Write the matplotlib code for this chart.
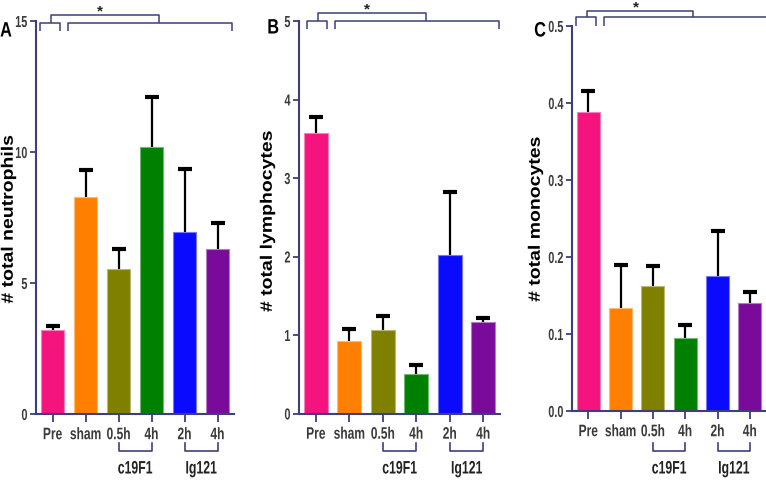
import matplotlib
matplotlib.use("Agg")
import matplotlib.pyplot as plt
from matplotlib.lines import Line2D
from matplotlib.patheffects import AbstractPathEffect
import matplotlib.transforms as mtransforms
from matplotlib.transforms import Affine2D
from matplotlib.colors import to_rgb

W, H = 766, 486

categories = ["Pre", "sham", "0.5h", "4h", "2h", "4h"]
groups = [("c19F1", 2, 3), ("Ig121", 4, 5)]
colors = ["#F5147E", "#FF8000", "#808000", "#008000", "#0A0AFF", "#7A0A9A"]

neut_mean = [3.2, 8.3, 5.55, 10.2, 6.95, 6.3]
neut_err = [0.15, 1.0, 0.75, 1.9, 2.4, 1.0]
lymph_mean = [3.57, 0.92, 1.06, 0.50, 2.02, 1.17]
lymph_err = [0.21, 0.16, 0.18, 0.12, 0.80, 0.05]
mono_mean = [0.388, 0.134, 0.162, 0.095, 0.175, 0.140]
mono_err = [0.027, 0.056, 0.026, 0.017, 0.059, 0.015]

neut_ticks = [0, 5, 10, 15]
neut_ticklabels = ["0", "5", "10", "15"]
lymph_ticks = [0, 1, 2, 3, 4, 5]
lymph_ticklabels = ["0", "1", "2", "3", "4", "5"]
mono_ticks = [0.0, 0.1, 0.2, 0.3, 0.4, 0.5]
mono_ticklabels = ["0.0", "0.1", "0.2", "0.3", "0.4", "0.5"]

ylabels = ["# total neutrophils", "# total lymphocytes", "# total monocytes"]
letters = ["A", "B", "C"]

FONT = "Liberation Sans"
NAVY = "#3E3E7C"
TICKC = "#3A3A3A"


class Squeeze(AbstractPathEffect):
    """Draw text glyphs condensed (narrow-font look) about an anchor."""

    def __init__(self, sx=1.0, sy=1.0, anchor="center"):
        super().__init__()
        self.sx, self.sy, self.anchor = sx, sy, anchor

    def draw_path(self, renderer, gc, tpath, affine, rgbFace=None):
        ext = tpath.get_extents()
        if self.anchor == "right":
            cx = ext.x1
        elif self.anchor == "left":
            cx = ext.x0
        else:
            cx = (ext.x0 + ext.x1) / 2
        cy = (ext.y0 + ext.y1) / 2
        t = Affine2D().translate(-cx, -cy).scale(self.sx, self.sy).translate(cx, cy) + affine
        renderer.draw_path(gc, tpath, t, rgbFace)


def lighten(c, f=0.45):
    r, g, b = to_rgb(c)
    return (r + (1 - r) * f, g + (1 - g) * f, b + (1 - b) * f)


fig = plt.figure(figsize=(W / 100, H / 100), dpi=100)


def fx(px):
    return px / W


def fy(py):
    return 1 - py / H


def pline(xs, ys, **kw):
    fig.add_artist(Line2D([fx(x) for x in xs], [fy(y) for y in ys],
                          transform=fig.transFigure, color=NAVY, lw=1.1,
                          solid_capstyle="butt", **kw))


# axes boxes in pixels: left, right, top, bottom
boxes = [(36, 234, 21, 414), (299, 500, 21, 413.5), (572, 766, 26, 411)]
ylims = [(0, 15), (0, 5), (0, 0.5)]
data = [(neut_mean, neut_err, neut_ticks, neut_ticklabels),
        (lymph_mean, lymph_err, lymph_ticks, lymph_ticklabels),
        (mono_mean, mono_err, mono_ticks, mono_ticklabels)]
ylabel_x = [9, 268, 536]
ylabel_y = [219, 221, 219]
letter_pos = [(0, 31), (267, 28), (534, 31)]

x = list(range(len(categories)))
for i in range(3):
    l, r, t, b = boxes[i]
    ax = fig.add_axes([fx(l), fy(b), (r - l) / W, (b - t) / H])
    mean, err, ticks, tlabels = data[i]
    tops = [m + e for m, e in zip(mean, err)]
    ax.bar(x, mean, width=0.72, color=colors,
           edgecolor=[lighten(c) for c in colors], linewidth=0.8, zorder=2)
    ax.vlines(x, mean, tops, colors="black", lw=1.6, zorder=3)
    ax.plot(x, tops, linestyle="none", marker="_", markersize=9.5,
            markeredgewidth=3.0, color="black", zorder=3, clip_on=False)
    ax.set_xlim(-0.5, 5.5)
    ax.set_ylim(*ylims[i])
    ax.set_yticks(ticks)
    ax.set_yticklabels(tlabels)
    ax.set_xticks(x)
    ax.set_xticklabels(categories)
    for s in ["top", "right"]:
        ax.spines[s].set_visible(False)
    for s in ["left", "bottom"]:
        ax.spines[s].set_color(NAVY)
        ax.spines[s].set_linewidth(1.5)
    ax.tick_params(axis="y", direction="out", length=4.5, width=1.3, color=NAVY,
                   labelcolor=TICKC, pad=1.5)
    ax.tick_params(axis="x", direction="out", length=5.5, width=1.3, color=NAVY,
                   labelcolor=TICKC, pad=4)
    for lab in ax.get_yticklabels():
        lab.set_fontfamily(FONT)
        lab.set_fontsize(11.5)
        lab.set_fontweight("bold")
        lab.set_path_effects([Squeeze(sx=0.68, anchor="right")])
    for lab in ax.get_xticklabels():
        lab.set_fontfamily(FONT)
        lab.set_fontsize(12)
        lab.set_fontweight("bold")
        lab.set_path_effects([Squeeze(sx=0.72)])
    ax.patch.set_alpha(0)
    fig.text(fx(ylabel_x[i]), fy(ylabel_y[i]), ylabels[i], rotation=90,
             ha="center", va="center", fontsize=14, fontweight="bold",
             family=FONT, color="black",
             path_effects=[Squeeze(sy=0.85)])
    fig.text(fx(letter_pos[i][0]), fy(letter_pos[i][1]), letters[i],
             ha="left", va="center", fontsize=15, fontweight="bold",
             family=FONT, color="black", path_effects=[Squeeze(sx=0.78, anchor="left")])

    # group brackets under the axis
    blend = mtransforms.blended_transform_factory(ax.transData, fig.transFigure)
    for name, a, bidx in groups:
        ax.add_line(Line2D([a, a, bidx, bidx], [fy(443), fy(451), fy(451), fy(443)],
                           transform=blend, color=NAVY, lw=1.2, clip_on=False))
        ax.text((a + bidx) / 2, fy(469), name, transform=blend, ha="center",
                va="center", fontsize=13, fontweight="bold", family=FONT,
                color="#222222", path_effects=[Squeeze(sx=0.68)])

# significance brackets (pixel positions)
sig = [
    dict(up=(51, 159, 15, 23), left=(40, 60, 23, 31), right=(68, 232, 23, 31), star=(100, 11)),
    dict(up=(318, 426, 13, 21), left=(307, 327, 21, 29), right=(335, 499, 21, 29), star=(367, 9)),
    dict(up=(587, 693, 11, 17), left=(576, 596, 17, 26), right=(604, 775, 17, 26), star=(636, 7)),
]
for s in sig:
    x0, x1, y0, y1 = s["up"]
    pline([x0, x0, x1, x1], [y1, y0, y0, y1])
    for k in ("left", "right"):
        a, b, ya, yb = s[k]
        pline([a, a, b, b], [yb, ya, ya, yb])
    fig.text(fx(s["star"][0]), fy(s["star"][1]), "*", ha="center", va="center",
             fontsize=11, fontweight="bold", family=FONT, color="#222222")

fig.savefig("out.png", dpi=100)
